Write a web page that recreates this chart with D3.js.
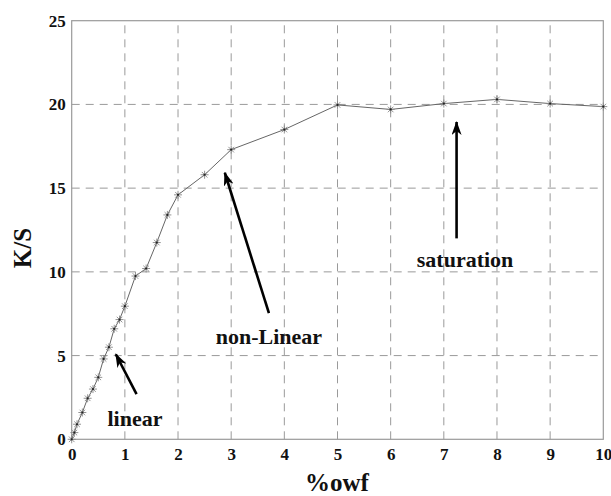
<!DOCTYPE html>
<html>
<head>
<meta charset="utf-8">
<script src="https://cdn.jsdelivr.net/npm/d3@7/dist/d3.min.js"></script>
<style>
  html, body { margin: 0; padding: 0; background: #fff; }
  svg text { font-family: "Liberation Serif", "Times New Roman", Times, "DejaVu Serif", serif !important; font-weight: bold; }
</style>
</head>
<body>
<svg id="chart" width="611" height="496"></svg>
<script>
const owf = [0, 0.05, 0.1, 0.2, 0.3, 0.4, 0.5, 0.6, 0.7, 0.8, 0.9, 1.0, 1.2, 1.4, 1.6, 1.8, 2.0, 2.5, 3, 4, 5, 6, 7, 8, 9, 10];
const ks  = [0, 0.4, 0.9, 1.6, 2.45, 3.0, 3.7, 4.8, 5.5, 6.6, 7.15, 7.95, 9.75, 10.2, 11.75, 13.4, 14.6, 15.8, 17.3, 18.5, 19.97, 19.7, 20.05, 20.3, 20.05, 19.87];
const xTicks = [0, 1, 2, 3, 4, 5, 6, 7, 8, 9, 10];
const yTicks = [0, 5, 10, 15, 20, 25];
const labels = [
  { text: "linear", x: 1.19, y: 0.79 },
  { text: "non-Linear", x: 3.71, y: 5.69 },
  { text: "saturation", x: 7.40, y: 10.29 }
];
const arrows = [
  { x1: 1.22, y1: 2.7, x2: 0.83, y2: 5.08 },
  { x1: 3.71, y1: 7.53, x2: 2.88, y2: 15.92 },
  { x1: 7.24, y1: 12.0, x2: 7.24, y2: 18.95 }
];

const FONT = "'Liberation Serif', 'Times New Roman', Times, 'DejaVu Serif', serif";
const svg = d3.select("#chart");
const L = 71.7, R = 603.3, T = 20.7, B = 439.3;
const x = d3.scaleLinear().domain([0, 10]).range([L, R]);
const y = d3.scaleLinear().domain([0, 25]).range([B, T]);

// grid
const grid = svg.append("g").attr("stroke", "#9a9a9a").attr("stroke-width", 1).attr("stroke-dasharray", "8,6");
grid.selectAll(".vx").data(xTicks.slice(1, -1)).join("line")
  .attr("x1", d => x(d)).attr("x2", d => x(d)).attr("y1", B).attr("y2", T);
grid.selectAll(".hy").data(yTicks.slice(1, -1)).join("line")
  .attr("x1", L).attr("x2", R).attr("y1", d => y(d)).attr("y2", d => y(d));

// axes box
svg.append("rect").attr("x", L).attr("y", T).attr("width", R - L).attr("height", B - T)
  .attr("fill", "none").attr("stroke", "#9a9a9a").attr("stroke-width", 1.2);

const xAxis = d3.axisBottom(x).tickValues(xTicks).tickSize(0).tickPadding(9).tickFormat(d3.format("d"));
const gx = svg.append("g").attr("transform", `translate(0,${B})`).call(xAxis)
  .attr("font-family", FONT).attr("font-size", 17);
gx.select(".domain").remove();
gx.selectAll("text").attr("fill", "#111").attr("font-weight", "bold");

const yAxis = d3.axisLeft(y).tickValues(yTicks).tickSize(0).tickPadding(6).tickFormat(d3.format("d"));
const gy = svg.append("g").attr("transform", `translate(${L},0)`).call(yAxis)
  .attr("font-family", FONT).attr("font-size", 17);
gy.select(".domain").remove();
gy.selectAll("text").attr("fill", "#111").attr("font-weight", "bold");

// line
const pts = owf.map((d, i) => [d, ks[i]]);
svg.append("path").datum(pts)
  .attr("fill", "none").attr("stroke", "#666").attr("stroke-width", 1)
  .attr("d", d3.line().x(d => x(d[0])).y(d => y(d[1])));

// asterisk markers
const r = 4;
const mk = svg.append("g").attr("stroke", "#888").attr("stroke-width", 0.9);
pts.forEach(p => {
  const cx = x(p[0]), cy = y(p[1]);
  const g = mk.append("g").attr("transform", `translate(${cx},${cy})`);
  [[-r,0,r,0],[0,-r,0,r],[-r*0.7,-r*0.7,r*0.7,r*0.7],[-r*0.7,r*0.7,r*0.7,-r*0.7]].forEach(s => {
    g.append("line").attr("x1", s[0]).attr("y1", s[1]).attr("x2", s[2]).attr("y2", s[3]);
  });
  g.append("circle").attr("r", 1.1).attr("fill", "#222").attr("stroke", "none");
});

// arrows
const defs = svg.append("defs");
defs.append("marker").attr("id", "ah").attr("viewBox", "0 0 14 10")
  .attr("refX", 13).attr("refY", 5).attr("markerWidth", 14).attr("markerHeight", 10)
  .attr("markerUnits", "userSpaceOnUse").attr("orient", "auto")
  .append("path").attr("d", "M0,0 L14,5 L0,10 L4,5 Z").attr("fill", "#000");
svg.selectAll(".arr").data(arrows).join("line")
  .attr("x1", d => x(d.x1)).attr("y1", d => y(d.y1))
  .attr("x2", d => x(d.x2)).attr("y2", d => y(d.y2))
  .attr("stroke", "#000").attr("stroke-width", 2.6).attr("marker-end", "url(#ah)");

// annotation labels
svg.selectAll(".lab").data(labels).join("text")
  .attr("x", d => x(d.x)).attr("y", d => y(d.y)).attr("text-anchor", "middle")
  .attr("font-family", FONT).attr("font-weight", "bold")
  .attr("font-size", 22).attr("fill", "#111").text(d => d.text);

// axis titles
svg.append("text").attr("x", 337).attr("y", 491).attr("text-anchor", "middle")
  .attr("font-family", FONT).attr("font-weight", "bold")
  .attr("font-size", 25).attr("fill", "#111").text("%owf");
svg.append("text").attr("transform", "translate(31,248) rotate(-90)").attr("text-anchor", "middle")
  .attr("font-family", FONT).attr("font-weight", "bold")
  .attr("font-size", 25).attr("fill", "#111").text("K/S");
</script>
</body>
</html>
